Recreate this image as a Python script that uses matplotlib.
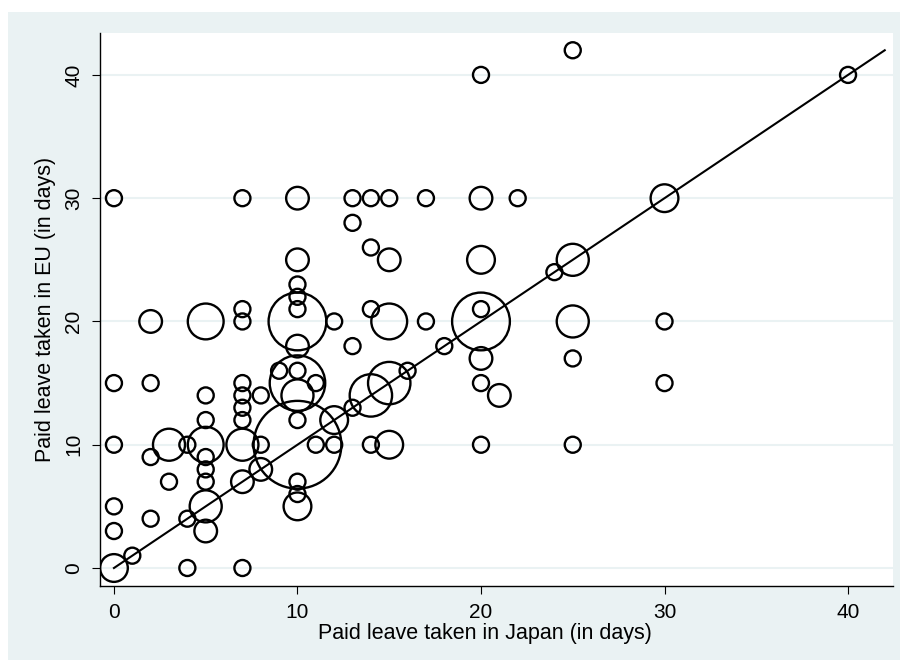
import matplotlib
matplotlib.use("Agg")
import matplotlib.pyplot as plt
from matplotlib.patches import Rectangle

# paid leave days, Japan (x) vs EU (y), and number of respondents at each pair
japan = [0, 0, 0, 0, 0, 0,
         1,
         2, 2, 2, 2,
         3, 3,
         4, 4, 4,
         5, 5, 5, 5, 5, 5, 5, 5, 5,
         7, 7, 7, 7, 7, 7, 7, 7, 7, 7,
         8, 8, 8,
         9,
         10, 10, 10, 10, 10, 10, 10, 10, 10, 10, 10, 10, 10, 10, 10,
         11, 11,
         12, 12, 12,
         13, 13, 13, 13,
         14, 14, 14, 14, 14,
         15, 15, 15, 15, 15,
         16,
         17, 17,
         18,
         20, 20, 20, 20, 20, 20, 20, 20,
         21,
         22,
         24,
         25, 25, 25, 25, 25,
         30, 30, 30,
         40]
eu = [0, 3, 5, 10, 15, 30,
      1,
      4, 9, 15, 20,
      7, 10,
      0, 4, 10,
      3, 5, 7, 8, 9, 10, 12, 14, 20,
      0, 7, 10, 12, 13, 14, 15, 20, 21, 30,
      8, 10, 14,
      16,
      5, 6, 7, 10, 12, 14, 15, 16, 18, 20, 21, 22, 23, 25, 30,
      10, 15,
      10, 12, 20,
      13, 18, 28, 30,
      10, 14, 21, 26, 30,
      10, 15, 20, 25, 30,
      16,
      20, 30,
      18,
      10, 15, 17, 20, 21, 25, 30, 40,
      14,
      30,
      24,
      10, 17, 20, 25, 42,
      15, 20, 30,
      40]
count = [3, 1, 1, 1, 1, 1,
         1,
         1, 1, 1, 2,
         1, 4,
         1, 1, 1,
         2, 4, 1, 1, 1, 5, 1, 1, 5,
         1, 2, 4, 1, 1, 1, 1, 1, 1, 1,
         2, 1, 1,
         1,
         3, 1, 1, 30, 1, 4, 12, 1, 2, 13, 1, 1, 1, 2, 2,
         1, 1,
         1, 3, 1,
         1, 1, 1, 1,
         1, 7, 1, 1, 1,
         3, 7, 5, 2, 1,
         1,
         1, 1,
         1,
         1, 1, 2, 13, 1, 3, 2, 1,
         2,
         1,
         1,
         1, 1, 4, 4, 1,
         1, 1, 3,
         1]

line_x = [0, 42]
line_y = [0, 42]

xticks = [0, 10, 20, 30, 40]
yticks = [0, 10, 20, 30, 40]

bg = "#EAF2F3"
plt.rcParams["font.family"] = ["Liberation Sans", "DejaVu Sans"]

fig = plt.figure(figsize=(9.09, 6.68), dpi=100)
fig.patch.set_facecolor("white")
fig.patches.append(Rectangle((8 / 909, 1 - 660 / 668), 892 / 909, 648 / 668,
                             transform=fig.transFigure, facecolor=bg,
                             edgecolor="none", zorder=-10))

ax = fig.add_axes([100 / 909, 1 - 586 / 668, 793 / 909, 553 / 668])
ax.set_zorder(1)
ax.set_facecolor("white")

sizes = [c * 133 for c in count]
ax.scatter(japan, eu, s=sizes, facecolors="none", edgecolors="black",
           linewidths=1.7, zorder=3)
ax.plot(line_x, line_y, color="black", lw=1.5, zorder=4)

ax.set_xlim(-0.76, 42.45)
ax.set_ylim(-1.46, 43.4)
ax.set_xticks(xticks)
ax.set_yticks(yticks)
ax.grid(axis="y", color=bg, lw=1.5, zorder=0)
ax.set_axisbelow(True)

for s in ["top", "right"]:
    ax.spines[s].set_visible(False)
for s in ["left", "bottom"]:
    ax.spines[s].set_color("black")
    ax.spines[s].set_linewidth(1.0)

ax.tick_params(axis="both", length=6, width=0.8, labelsize=15, pad=6)
plt.setp(ax.get_yticklabels(), rotation=90, va="center")

ax.set_xlabel("Paid leave taken in Japan (in days)", fontsize=15.5)
ax.set_ylabel("Paid leave taken in EU (in days)", fontsize=15.5)
ax.xaxis.set_label_coords((485 - 100) / 793, (586 - 633) / 553)
ax.yaxis.set_label_coords((46 - 100) / 793, 0.5)
ax.xaxis.label.set_va("center")
ax.yaxis.label.set_va("center")

fig.savefig("out.png", dpi=100)
